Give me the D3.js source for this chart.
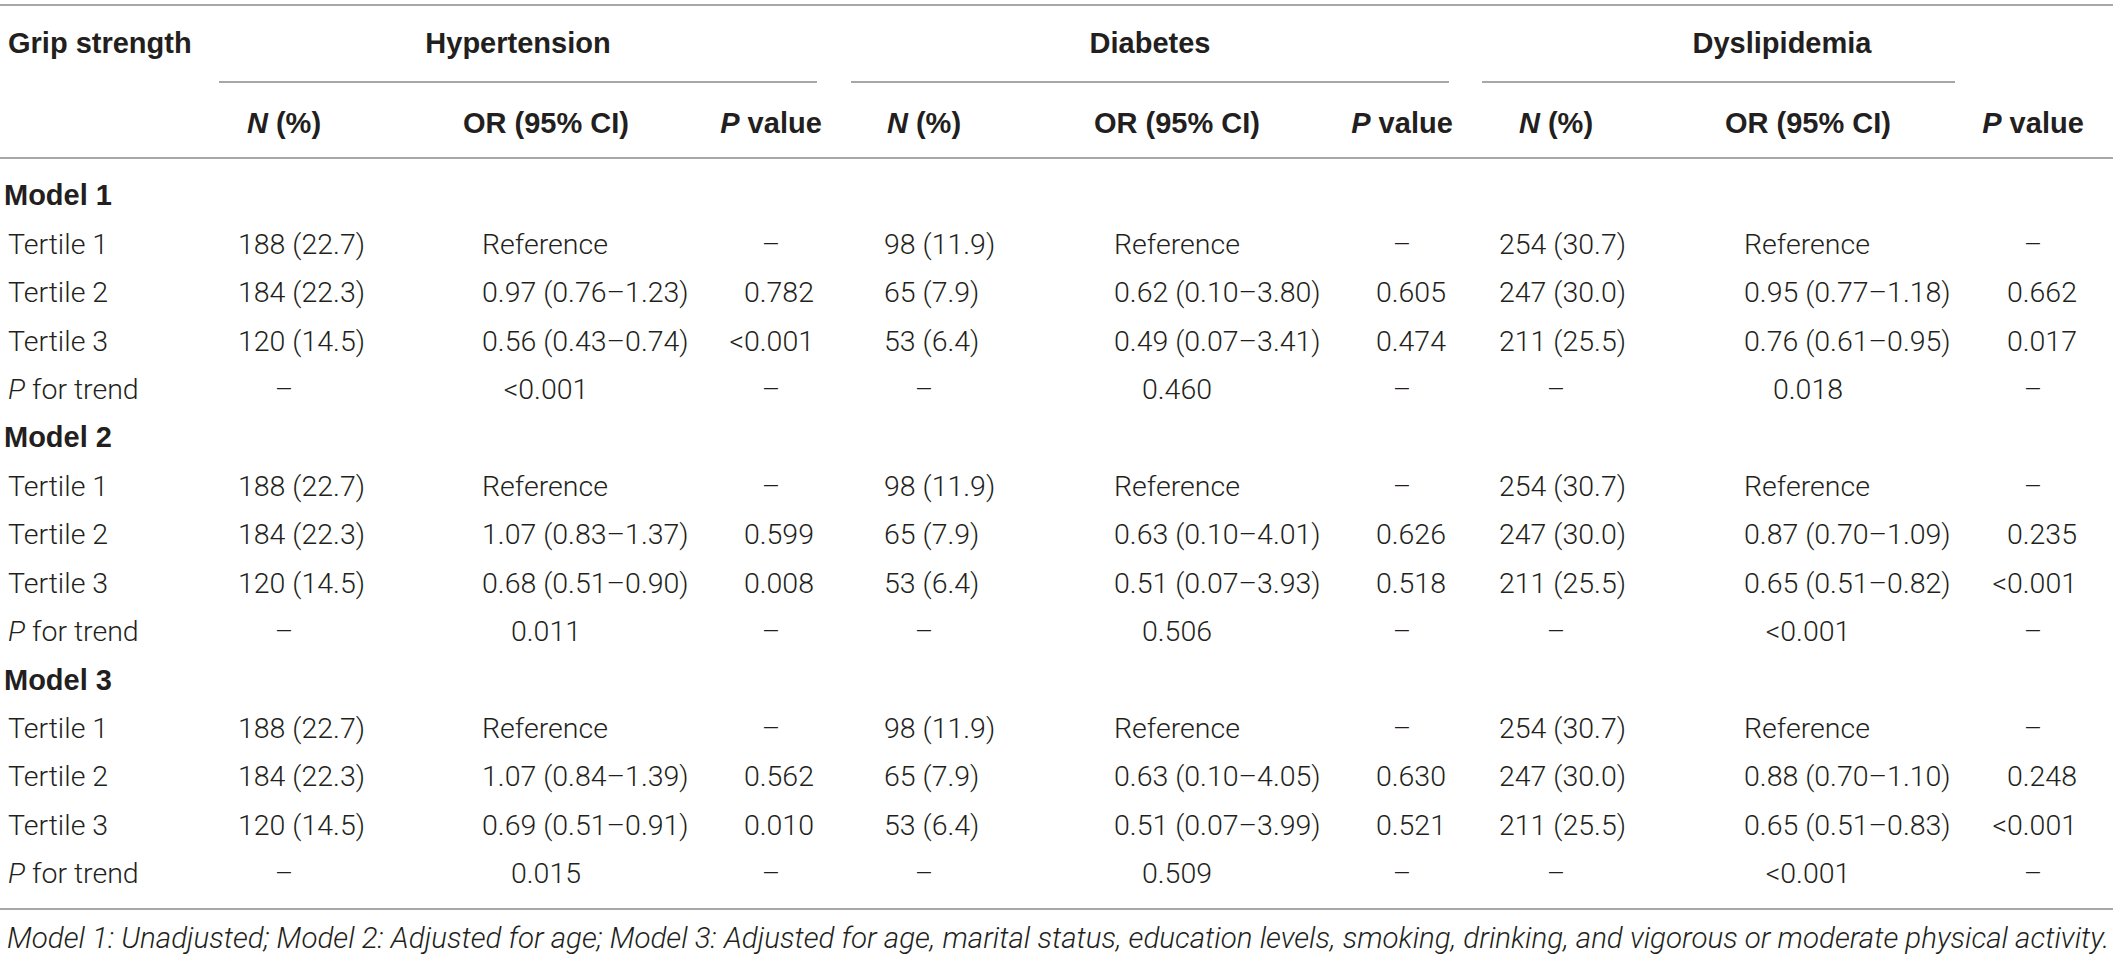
<!DOCTYPE html>
<html>
<head>
<meta charset="utf-8">
<script src="https://cdn.jsdelivr.net/npm/d3@7/dist/d3.min.js"></script>
<style>
  html, body { margin: 0; padding: 0; background: #ffffff; }
  svg { display: block; }
</style>
</head>
<body>
<svg id="chart" width="2119" height="958"></svg>
<script>
// ---------------- DATA ----------------
const models = ["Model 1", "Model 2", "Model 3"];
const rowLabels = ["Tertile 1", "Tertile 2", "Tertile 3", "P for trend"];
const diseases = ["Hypertension", "Diabetes", "Dyslipidemia"];
const subHeaders = ["N (%)", "OR (95% CI)", "P value"];

const hypN = ["188 (22.7)", "184 (22.3)", "120 (14.5)", "–"];
const diaN = ["98 (11.9)", "65 (7.9)", "53 (6.4)", "–"];
const dysN = ["254 (30.7)", "247 (30.0)", "211 (25.5)", "–"];

const hypOR = [
  ["Reference", "0.97 (0.76–1.23)", "0.56 (0.43–0.74)", "<0.001"],
  ["Reference", "1.07 (0.83–1.37)", "0.68 (0.51–0.90)", "0.011"],
  ["Reference", "1.07 (0.84–1.39)", "0.69 (0.51–0.91)", "0.015"]
];
const hypP = [
  ["–", "0.782", "<0.001", "–"],
  ["–", "0.599", "0.008", "–"],
  ["–", "0.562", "0.010", "–"]
];
const diaOR = [
  ["Reference", "0.62 (0.10–3.80)", "0.49 (0.07–3.41)", "0.460"],
  ["Reference", "0.63 (0.10–4.01)", "0.51 (0.07–3.93)", "0.506"],
  ["Reference", "0.63 (0.10–4.05)", "0.51 (0.07–3.99)", "0.509"]
];
const diaP = [
  ["–", "0.605", "0.474", "–"],
  ["–", "0.626", "0.518", "–"],
  ["–", "0.630", "0.521", "–"]
];
const dysOR = [
  ["Reference", "0.95 (0.77–1.18)", "0.76 (0.61–0.95)", "0.018"],
  ["Reference", "0.87 (0.70–1.09)", "0.65 (0.51–0.82)", "<0.001"],
  ["Reference", "0.88 (0.70–1.10)", "0.65 (0.51–0.83)", "<0.001"]
];
const dysP = [
  ["–", "0.662", "0.017", "–"],
  ["–", "0.235", "<0.001", "–"],
  ["–", "0.248", "<0.001", "–"]
];

const footnote = "Model 1: Unadjusted; Model 2: Adjusted for age; Model 3: Adjusted for age, marital status, education levels, smoking, drinking, and vigorous or moderate physical activity.";

// ---------------- LAYOUT ----------------
const W = 2119, H = 958;
const svg = d3.select("#chart");
const TEXT = "#231f20";
const LINE = "#8a8a8a";
const BODY_FONT = "Roboto, 'Liberation Sans', Arial, sans-serif";
const HEAD_FONT = "'Liberation Sans', Arial, Helvetica, sans-serif";
const BODY_SIZE = 28.5;
const HEAD_SIZE = 29;

// columns: key -> center / left / right anchors
const colKeys = ["hypN","hypOR","hypP","diaN","diaOR","diaP","dysN","dysOR","dysP"];
const colCenter = d3.scaleOrdinal().domain(colKeys).range([284, 546, 771, 924, 1177, 1402, 1556, 1808, 2033]);
const colLeft = d3.scaleOrdinal().domain(colKeys).range([238, 482, 721, 884, 1114, 1352, 1499, 1744, 1983]);
const colRight = d3.scaleOrdinal().domain(colKeys).range([331, 610, 814, 1000, 1240, 1446, 1633, 1872, 2077]);
const spanX = d3.scaleOrdinal().domain(diseases).range([[219, 817], [851, 1449], [1482, 1955]]);
const spanTitleX = d3.scaleOrdinal().domain(diseases).range([518, 1150, 1782]);

// rows
const nRows = models.length * (rowLabels.length + 1);
const y = d3.scaleLinear().domain([0, nRows - 1]).range([195, 873]);
const yHead = d3.scalePoint().domain(["title", "sub"]).range([43, 123]);
const baselineOffset = 10.3;

// ---------------- RULES ----------------
const rules = [
  { x1: 0, x2: 2113, y: 5 },
  { x1: 0, x2: 2113, y: 158 },
  { x1: 0, x2: 2113, y: 909 }
];
diseases.forEach(d => rules.push({ x1: spanX(d)[0], x2: spanX(d)[1], y: 82 }));
svg.append("g").selectAll("line").data(rules).join("line")
  .attr("x1", d => d.x1).attr("x2", d => d.x2)
  .attr("y1", d => d.y).attr("y2", d => d.y)
  .attr("stroke", LINE).attr("stroke-width", 1.6);

// ---------------- HEADERS ----------------
const head = svg.append("g").attr("font-family", HEAD_FONT).attr("font-weight", "bold")
  .attr("font-size", HEAD_SIZE).attr("fill", TEXT);

head.append("text").attr("x", 8).attr("y", yHead("title") + baselineOffset).text("Grip strength");

head.selectAll("text.span").data(diseases).join("text").attr("class", "span")
  .attr("x", d => spanTitleX(d)).attr("y", yHead("title") + baselineOffset)
  .attr("text-anchor", "middle").text(d => d);

const subData = [];
["hyp", "dia", "dys"].forEach(p => {
  subData.push({ key: p + "N", parts: [["N", true], [" (%)", false]] });
  subData.push({ key: p + "OR", parts: [["OR (95% CI)", false]] });
  subData.push({ key: p + "P", parts: [["P", true], [" value", false]] });
});
const subs = head.selectAll("text.sub").data(subData).join("text").attr("class", "sub")
  .attr("x", d => colCenter(d.key)).attr("y", yHead("sub") + baselineOffset)
  .attr("text-anchor", "middle");
subs.selectAll("tspan").data(d => d.parts).join("tspan")
  .attr("font-style", d => d[1] ? "italic" : "normal")
  .text(d => d[0]);

// ---------------- BODY ----------------
const body = svg.append("g").attr("font-family", BODY_FONT).attr("font-weight", 300)
  .attr("font-size", BODY_SIZE).attr("fill", TEXT);

const colData = {
  hypN: () => hypN, diaN: () => diaN, dysN: () => dysN,
  hypOR: m => hypOR[m], diaOR: m => diaOR[m], dysOR: m => dysOR[m],
  hypP: m => hypP[m], diaP: m => diaP[m], dysP: m => dysP[m]
};

let rowIdx = 0;
models.forEach((model, m) => {
  // model heading row
  svg.append("text")
    .attr("x", 4).attr("y", y(rowIdx) + baselineOffset)
    .attr("font-family", HEAD_FONT).attr("font-weight", "bold")
    .attr("font-size", HEAD_SIZE).attr("fill", TEXT)
    .text(model);
  rowIdx++;
  rowLabels.forEach((label, r) => {
    const yy = y(rowIdx) + baselineOffset;
    const lt = body.append("text").attr("x", 8).attr("y", yy);
    if (label.startsWith("P ")) {
      lt.append("tspan").attr("font-style", "italic").text("P");
      lt.append("tspan").text(label.slice(1));
    } else {
      lt.text(label);
    }
    const cells = colKeys.map(k => {
      const v = colData[k](m)[r];
      const type = k.replace(/^(hyp|dia|dys)/, "");
      let anchor, x;
      if (v === "–" || (type === "OR" && r === 3)) { anchor = "middle"; x = colCenter(k); }
      else if (type === "P") { anchor = "end"; x = colRight(k); }
      else { anchor = "start"; x = colLeft(k); }
      return { v, anchor, x };
    });
    body.append("g").selectAll("text").data(cells).join("text")
      .attr("x", d => d.x).attr("y", yy)
      .attr("text-anchor", d => d.anchor)
      .text(d => d.v);
    rowIdx++;
  });
});

// ---------------- FOOTNOTE ----------------
const fn = svg.append("text")
  .attr("x", 7).attr("y", 948)
  .attr("font-family", BODY_FONT).attr("font-weight", 300).attr("font-style", "italic")
  .attr("font-size", 28).attr("fill", TEXT)
  .text(footnote);
const len = fn.node().getComputedTextLength();
const target = 2103;
fn.attr("font-size", 28 * target / len);
</script>
</body>
</html>
